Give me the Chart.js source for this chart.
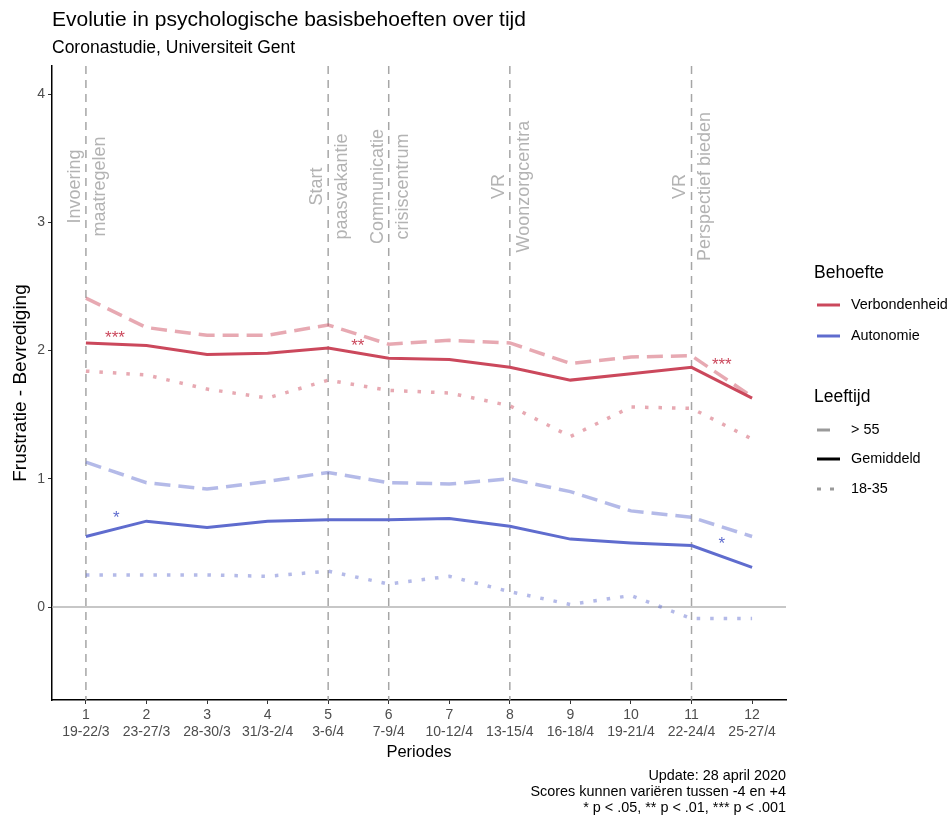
<!DOCTYPE html>
<html>
<head>
<meta charset="utf-8">
<script src="https://cdn.jsdelivr.net/npm/chart.js@4.4.1/dist/chart.umd.min.js"></script>
<style>
  html, body { margin: 0; padding: 0; background: #fff; }
  #wrap { width: 952px; height: 821px; position: relative; }
</style>
</head>
<body>
<div id="wrap"><canvas id="my-chart"></canvas></div>
<script>
// data
const periods = [1, 2, 3, 4, 5, 6, 7, 8, 9, 10, 11, 12];
const periodDates = ['19-22/3', '23-27/3', '28-30/3', '31/3-2/4', '3-6/4', '7-9/4', '10-12/4', '13-15/4', '16-18/4', '19-21/4', '22-24/4', '25-27/4'];

const verbGem  = [2.06, 2.04, 1.97, 1.98, 2.02, 1.94, 1.93, 1.87, 1.77, 1.82, 1.87, 1.63];
const verbOud  = [2.41, 2.18, 2.12, 2.12, 2.20, 2.05, 2.08, 2.06, 1.90, 1.95, 1.96, 1.64];
const verbJong = [1.84, 1.81, 1.70, 1.63, 1.77, 1.69, 1.67, 1.57, 1.33, 1.56, 1.55, 1.31];

const autoGem  = [0.55, 0.67, 0.62, 0.67, 0.68, 0.68, 0.69, 0.63, 0.53, 0.50, 0.48, 0.31];
const autoOud  = [1.13, 0.97, 0.92, 0.98, 1.05, 0.97, 0.96, 1.00, 0.90, 0.75, 0.70, 0.55];
const autoJong = [0.25, 0.25, 0.25, 0.24, 0.28, 0.18, 0.24, 0.12, 0.02, 0.09, -0.09, -0.09];

const eventPeriods = [1, 5, 6, 8, 11];
const eventLabels = [
    ['Invoering', 'maatregelen'],
    ['Start', 'paasvakantie'],
    ['Communicatie', 'crisiscentrum'],
    ['VR', 'Woonzorgcentra'],
    ['VR', 'Perspectief bieden']
];
const eventLabelY = 3.28;

// significance stars
const sigX = [1.48, 5.49, 11.5, 1.5, 11.5];
const sigY = [2.13, 2.065, 1.92, 0.725, 0.52];
const sigText = ['***', '**', '***', '*', '*'];
const sigSeries = [0, 0, 0, 1, 1];

const needGroups = ['Verbondenheid', 'Autonomie'];
const ageGroups = ['> 55', 'Gemiddeld', '18-35'];
const yTicks = [0, 1, 2, 3, 4];

const red = 'rgb(203,72,92)';
const redLight = 'rgba(203,72,92,0.47)';
const blue = 'rgb(95,108,206)';
const blueLight = 'rgba(95,108,206,0.47)';
const seriesColor = [red, blue];
const FONT = 'Liberation Sans, Arial, sans-serif';

const toPoints = arr => arr.map((v, i) => ({x: periods[i], y: v}));

function lineSet(label, arr, color, kind) {
    return {
        label: label,
        data: toPoints(arr),
        borderColor: color,
        borderWidth: kind === 'solid' ? 3 : 3.5,
        borderDash: kind === 'dashed' ? [16, 8] : (kind === 'dotted' ? [3.5, 10] : []),
        pointRadius: 0,
        tension: 0,
        fill: false
    };
}

const extraDraw = {
    id: 'extraDraw',
    beforeDatasetsDraw(chart) {
        const {ctx, chartArea, scales: {x, y}} = chart;
        ctx.save();
        // zero line
        ctx.strokeStyle = '#b5b5b5';
        ctx.lineWidth = 1.5;
        ctx.beginPath();
        ctx.moveTo(chartArea.left, y.getPixelForValue(0));
        ctx.lineTo(chartArea.right, y.getPixelForValue(0));
        ctx.stroke();
        // event lines + labels
        ctx.strokeStyle = '#a6a6a6';
        ctx.setLineDash([8, 6]);
        eventPeriods.forEach(p => {
            const px = x.getPixelForValue(p);
            ctx.beginPath();
            ctx.moveTo(px, chartArea.top);
            ctx.lineTo(px, chartArea.bottom);
            ctx.stroke();
        });
        ctx.setLineDash([]);
        ctx.fillStyle = '#b3b3b3';
        ctx.font = '18px ' + FONT;
        ctx.textAlign = 'center';
        ctx.textBaseline = 'middle';
        eventPeriods.forEach((p, i) => {
            const px = x.getPixelForValue(p);
            ctx.save();
            ctx.translate(px, y.getPixelForValue(eventLabelY));
            ctx.rotate(-Math.PI / 2);
            ctx.fillText(eventLabels[i][0], 0, -11);
            ctx.fillText(eventLabels[i][1], 0, 14);
            ctx.restore();
        });
        ctx.restore();
    },
    afterDraw(chart) {
        const {ctx, chartArea, scales: {x, y}} = chart;
        ctx.save();
        // stars
        ctx.font = '17px ' + FONT;
        ctx.textAlign = 'center';
        ctx.textBaseline = 'alphabetic';
        sigX.forEach((p, i) => {
            ctx.fillStyle = seriesColor[sigSeries[i]];
            ctx.fillText(sigText[i], x.getPixelForValue(p), y.getPixelForValue(sigY[i]) + 9);
        });
        // title, subtitle
        ctx.fillStyle = '#000';
        ctx.textAlign = 'left';
        ctx.font = '21px ' + FONT;
        ctx.fillText('Evolutie in psychologische basisbehoeften over tijd', chartArea.left, 26);
        ctx.font = '17.5px ' + FONT;
        ctx.fillText('Coronastudie, Universiteit Gent', chartArea.left, 53);
        // axis titles
        ctx.font = '16.5px ' + FONT;
        ctx.textAlign = 'center';
        ctx.textBaseline = 'middle';
        ctx.fillText('Periodes', (chartArea.left + chartArea.right) / 2, 752);
        ctx.save();
        ctx.translate(21, (chartArea.top + chartArea.bottom) / 2);
        ctx.rotate(-Math.PI / 2);
        ctx.font = '19px ' + FONT;
        ctx.fillText('Frustratie - Bevrediging', 0, 0);
        ctx.restore();
        // caption
        ctx.font = '14.4px ' + FONT;
        ctx.textAlign = 'right';
        ctx.fillText('Update: 28 april 2020', chartArea.right, 776);
        ctx.fillText('Scores kunnen variëren tussen -4 en +4', chartArea.right, 792);
        ctx.fillText('* p < .05, ** p < .01, *** p < .001', chartArea.right, 808);
        // legend
        const lx = 814;
        ctx.textAlign = 'left';
        ctx.font = '17.5px ' + FONT;
        ctx.fillText('Behoefte', lx, 273);
        ctx.fillText('Leeftijd', lx, 397);
        ctx.font = '14.4px ' + FONT;
        const needY = [305, 336];
        needGroups.forEach((g, i) => {
            ctx.strokeStyle = seriesColor[i];
            ctx.lineWidth = 3;
            ctx.beginPath();
            ctx.moveTo(817, needY[i]);
            ctx.lineTo(840, needY[i]);
            ctx.stroke();
            ctx.fillStyle = '#000';
            ctx.fillText(g, 851, needY[i]);
        });
        const ageY = [430, 459, 489];
        const ageDash = [[13, 20], [], [4, 9]];
        const ageColor = ['#9a9a9a', '#000', '#9a9a9a'];
        ageGroups.forEach((g, i) => {
            ctx.strokeStyle = ageColor[i];
            ctx.lineWidth = 3;
            ctx.setLineDash(ageDash[i]);
            ctx.beginPath();
            ctx.moveTo(817, ageY[i]);
            ctx.lineTo(840, ageY[i]);
            ctx.stroke();
            ctx.setLineDash([]);
            ctx.fillStyle = '#000';
            ctx.fillText(g, 851, ageY[i]);
        });
        ctx.restore();
    }
};

const ctx = document.getElementById('my-chart').getContext('2d');
new Chart(ctx, {
    type: 'line',
    data: {
        datasets: [
            lineSet('Verbondenheid > 55', verbOud, redLight, 'dashed'),
            lineSet('Verbondenheid 18-35', verbJong, redLight, 'dotted'),
            lineSet('Autonomie > 55', autoOud, blueLight, 'dashed'),
            lineSet('Autonomie 18-35', autoJong, blueLight, 'dotted'),
            lineSet('Verbondenheid', verbGem, red, 'solid'),
            lineSet('Autonomie', autoGem, blue, 'solid')
        ]
    },
    options: {
        responsive: true,
        maintainAspectRatio: false,
        animation: false,
        layout: {
            padding: {top: 66, right: 166, left: 0, bottom: 71}
        },
        plugins: {
            legend: {display: false},
            tooltip: {enabled: false}
        },
        scales: {
            x: {
                type: 'linear',
                min: 0.44,
                max: 12.56,
                afterBuildTicks: scale => { scale.ticks = periods.map(v => ({value: v})); },
                afterFit: scale => { scale.height = 50; },
                grid: {display: true, drawOnChartArea: false, drawTicks: true, tickLength: 4, color: '#333'},
                border: {display: true, color: '#000', width: 1.5},
                ticks: {
                    autoSkip: false,
                    maxRotation: 0,
                    padding: 3,
                    color: '#4d4d4d',
                    font: {family: FONT, size: 14, lineHeight: 1.2},
                    callback: v => [String(v), periodDates[v - 1]]
                }
            },
            y: {
                min: -0.725,
                max: 4.22,
                afterBuildTicks: scale => { scale.ticks = yTicks.map(v => ({value: v})); },
                afterFit: scale => { scale.width = 52; },
                grid: {display: true, drawOnChartArea: false, drawTicks: true, tickLength: 4, color: '#333'},
                border: {display: true, color: '#000', width: 1.5},
                ticks: {
                    padding: 3,
                    color: '#4d4d4d',
                    font: {family: FONT, size: 14}
                }
            }
        }
    },
    plugins: [extraDraw]
});
</script>
</body>
</html>
